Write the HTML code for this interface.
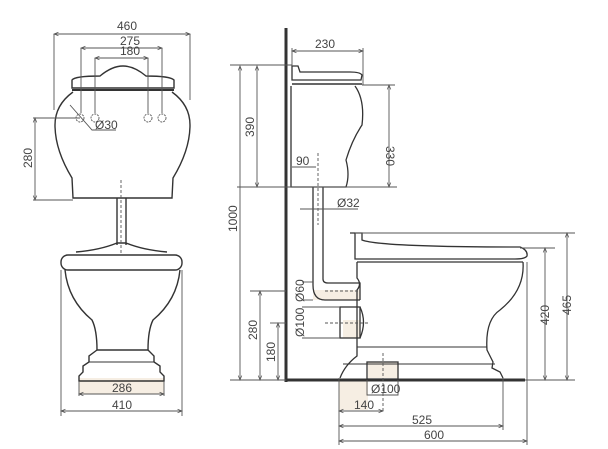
<!DOCTYPE html>
<html><head><meta charset="utf-8"><style>
html,body{margin:0;padding:0;background:#fff;}
svg{display:block}
text{font-family:"Liberation Sans",sans-serif;font-size:12px;fill:#444;}
</style></head><body>
<svg width="608" height="449" viewBox="0 0 608 449" xmlns="http://www.w3.org/2000/svg">
<defs>
<marker id="a" markerWidth="6" markerHeight="6" refX="5" refY="3" orient="auto-start-reverse"><path d="M0,1 L5,3 L0,5" fill="none" stroke="#555" stroke-width="0.8"/></marker>
</defs>
<g fill="#f6eee3" stroke="none">
<rect x="79" y="378" width="85" height="16"/>
<rect x="339" y="380" width="29" height="30"/>
<rect x="368" y="362" width="30" height="16"/>
<rect x="313" y="290" width="47" height="10"/>
<rect x="343" y="320" width="17" height="18"/>
</g>
<!-- LEFT VIEW -->
<g fill="none" stroke="#333" stroke-width="1.4">
<path d="M72,80 Q75,76 100,76 Q112,66 123,66 Q134,66 146,76 Q170,76 174,80 L174,88 L72,88 Z"/>
<line x1="72" y1="90" x2="174" y2="90" stroke-width="2"/>
<path d="M73,92 Q55,105 55,125 Q55,150 72,178 L73,198 L172,198 L173,178 Q190,150 190,125 Q190,105 172,92"/>
<path d="M117,198 L117,245 M126,198 L126,245"/>
<path d="M76,252 Q100,250 117,243 L126,243 Q143,250 167,252"/>
<rect x="61" y="255" width="121" height="15" rx="7"/>
<path d="M65,270 Q68,300 92,320 Q97,330 97,350 L148,350 Q148,330 153,320 Q177,300 180,270"/>
<path d="M97,350 L89,356 L89,362 L83,366 L83,372 L79,376 L79,381 L164,381 L164,376 L160,372 L160,366 L154,362 L154,356 L148,350"/>
<line x1="89" y1="362" x2="154" y2="362" stroke-width="1"/>
</g>
<g fill="none" stroke="#555" stroke-width="0.9">
<circle cx="80" cy="118" r="4" stroke-dasharray="2,1"/><circle cx="95" cy="118" r="4" stroke-dasharray="2,1"/>
<circle cx="148" cy="118" r="4" stroke-dasharray="2,1"/><circle cx="162" cy="118" r="4" stroke-dasharray="2,1"/>
<line x1="121" y1="180" x2="121" y2="255" stroke-dasharray="3,2"/>
<line x1="54" y1="34" x2="190" y2="34" marker-start="url(#a)" marker-end="url(#a)"/>
<line x1="54" y1="34" x2="54" y2="110"/><line x1="190" y1="34" x2="190" y2="100"/>
<line x1="81" y1="48" x2="162" y2="48" marker-start="url(#a)" marker-end="url(#a)"/>
<line x1="81" y1="48" x2="81" y2="113"/><line x1="162" y1="48" x2="162" y2="113"/>
<line x1="95" y1="58" x2="148" y2="58" marker-start="url(#a)" marker-end="url(#a)"/>
<line x1="95" y1="58" x2="95" y2="113"/><line x1="148" y1="58" x2="148" y2="113"/>
<path d="M70,105 L92,130 L116,130"/>
<line x1="35" y1="118" x2="35" y2="200" marker-start="url(#a)" marker-end="url(#a)"/>
<line x1="33" y1="118" x2="80" y2="118"/><line x1="33" y1="200" x2="73" y2="200"/>
<line x1="79" y1="394" x2="164" y2="394" marker-start="url(#a)" marker-end="url(#a)"/>
<line x1="79" y1="381" x2="79" y2="396"/><line x1="164" y1="381" x2="164" y2="396"/>
<line x1="61" y1="411" x2="182" y2="411" marker-start="url(#a)" marker-end="url(#a)"/>
<line x1="61" y1="270" x2="61" y2="416"/><line x1="182" y1="270" x2="182" y2="416"/>
</g>
<text x="117" y="30">460</text><text x="120" y="45">275</text><text x="120" y="55">180</text>
<text x="95" y="129">Ø30</text>
<text transform="translate(32,168) rotate(-90)">280</text>
<text x="112" y="392">286</text><text x="112" y="409">410</text>
<!-- RIGHT VIEW -->
<g fill="none" stroke="#333">
<line x1="286" y1="28" x2="286" y2="382" stroke-width="3"/>
<line x1="285" y1="380" x2="525" y2="380" stroke-width="3"/>
<g stroke-width="1.3">
<path d="M292,66 L298,66 L300,72 L350,72 Q360,72 362,75 L361,80 L292,80 Z"/>
<line x1="292" y1="84" x2="362" y2="84" stroke-width="1.6"/>
<path d="M291,86 L291,187 L346,187 Q350,175 346,160 Q352,140 362,125 Q365,100 355,86"/>
<path d="M313,187 L313,285 Q313,300 325,300 L360,300 M323,187 L323,279 Q323,283 328,283 L360,283 L360,300"/>
<rect x="340" y="307" width="20" height="31"/>
<path d="M360,307 Q367,322 360,338"/>
<path d="M350,233 L362,233 L362,240 Q380,247 520,247 Q528,250 527,256 Q525,259 515,259 L355,259 L355,233 Z"/>
<line x1="357" y1="262" x2="523" y2="262"/>
<path d="M523,262 Q525,290 500,310 Q485,320 487,350 L490,356 L493,362 L492,368 L500,372 L503,378"/>
<path d="M357,262 L357,278 Q362,284 357,290 L357,356 Q345,365 340,378"/>
<line x1="357" y1="347" x2="487" y2="347" stroke-width="1"/>
<line x1="343" y1="364" x2="495" y2="364" stroke-width="1"/>
<rect x="367" y="362" width="31" height="17"/>
</g></g>
<g fill="none" stroke="#555" stroke-width="0.9">
<line x1="292" y1="51" x2="363" y2="51" marker-start="url(#a)" marker-end="url(#a)"/>
<line x1="292" y1="48" x2="292" y2="66"/><line x1="363" y1="48" x2="363" y2="85"/>
<line x1="389" y1="85" x2="389" y2="187" marker-start="url(#a)" marker-end="url(#a)"/>
<line x1="362" y1="85" x2="395" y2="85"/>
<line x1="257" y1="66" x2="257" y2="187" marker-start="url(#a)" marker-end="url(#a)"/>
<line x1="240" y1="66" x2="240" y2="380" marker-start="url(#a)" marker-end="url(#a)"/>
<line x1="230" y1="65" x2="292" y2="65"/><line x1="237" y1="187" x2="397" y2="187"/>
<line x1="230" y1="380" x2="286" y2="380"/>
<line x1="292" y1="167" x2="316" y2="167"/>
<line x1="318" y1="153" x2="318" y2="225" stroke-dasharray="3,2"/>
<line x1="300" y1="209" x2="358" y2="209"/>
<line x1="260" y1="291" x2="260" y2="380" marker-start="url(#a)" marker-end="url(#a)"/>
<line x1="250" y1="291" x2="286" y2="291"/>
<line x1="278" y1="323" x2="278" y2="380" marker-start="url(#a)" marker-end="url(#a)"/>
<line x1="270" y1="323" x2="286" y2="323"/>
<line x1="325" y1="291" x2="360" y2="291" stroke-dasharray="3,2"/>
<line x1="325" y1="323" x2="370" y2="323" stroke-dasharray="3,2"/>
<line x1="302" y1="282" x2="313" y2="282"/><line x1="302" y1="300" x2="313" y2="300"/>
<line x1="302" y1="307" x2="340" y2="307"/><line x1="302" y1="338" x2="340" y2="338"/>
<line x1="383" y1="353" x2="383" y2="413" stroke-dasharray="3,2"/>
<line x1="355" y1="233" x2="575" y2="233"/><line x1="520" y1="248" x2="555" y2="248"/>
<line x1="525" y1="380" x2="575" y2="380"/>
<line x1="567" y1="233" x2="567" y2="380" marker-start="url(#a)" marker-end="url(#a)"/>
<line x1="545" y1="248" x2="545" y2="380" marker-start="url(#a)" marker-end="url(#a)"/>
<path d="M367,380 L367,395 L398,395 L398,380"/>
<line x1="339" y1="411" x2="383" y2="411" marker-start="url(#a)" marker-end="url(#a)"/>
<line x1="339" y1="426" x2="503" y2="426" marker-start="url(#a)" marker-end="url(#a)"/>
<line x1="339" y1="441" x2="527" y2="441" marker-start="url(#a)" marker-end="url(#a)"/>
<line x1="339" y1="378" x2="339" y2="445"/><line x1="503" y1="378" x2="503" y2="430"/>
<line x1="527" y1="262" x2="527" y2="445"/>
</g>
<text x="315" y="48">230</text>
<text transform="translate(386,146) rotate(90)">330</text>
<text transform="translate(254,137) rotate(-90)">390</text>
<text transform="translate(237,232) rotate(-90)">1000</text>
<text x="296" y="165">90</text>
<text x="337" y="207">Ø32</text>
<text transform="translate(304,302) rotate(-90)">Ø60</text>
<text transform="translate(304,337) rotate(-90)">Ø100</text>
<text transform="translate(257,340) rotate(-90)">280</text>
<text transform="translate(275,362) rotate(-90)">180</text>
<text transform="translate(549,325) rotate(-90)">420</text>
<text transform="translate(571,315) rotate(-90)">465</text>
<text x="371" y="393">Ø100</text>
<text x="354" y="409">140</text>
<text x="412" y="424">525</text>
<text x="424" y="439">600</text>
</svg>
</body></html>
